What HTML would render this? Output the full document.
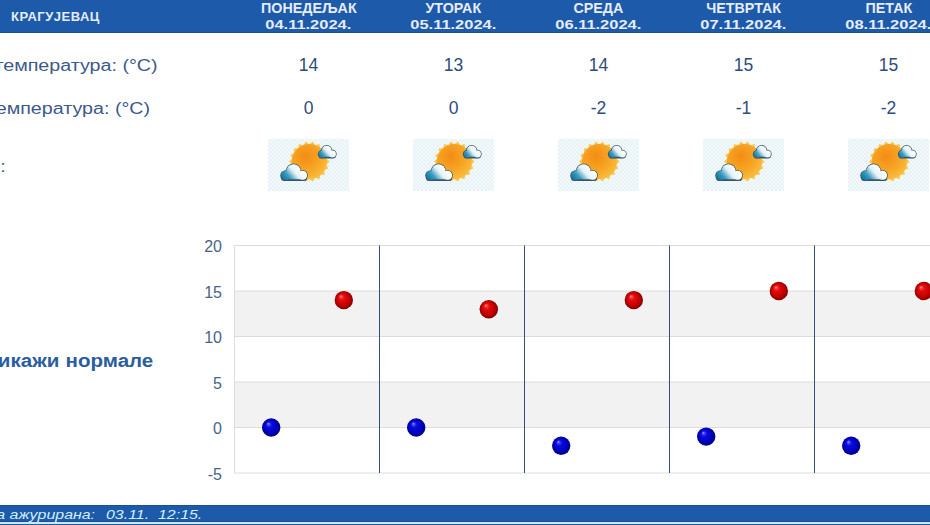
<!DOCTYPE html>
<html><head><meta charset="utf-8"><style>
*{margin:0;padding:0;box-sizing:border-box}
html,body{width:930px;height:525px;overflow:hidden;background:#fff;position:relative}
body{font-family:"Liberation Sans",sans-serif}
.a{position:absolute;white-space:nowrap}
.hdr{left:0;top:0;width:930px;height:33px;background:#1d5aa9;border-bottom:1px solid #1a4f93}
.city{left:11px;top:9px;font-weight:bold;font-size:13px;letter-spacing:0.5px;color:#e6ecfa}
.day{width:145px;text-align:center;font-weight:bold;font-size:13px;color:#e6ecfa;line-height:16px}
.day .n{display:inline-block;font-size:14px;transform:scaleX(1.02)}
.day .d{display:inline-block;font-size:13.5px;transform:scaleX(1.22)}
.lbl{font-size:16px;color:#3c5a8a;transform:scaleX(1.23);transform-origin:right center}
.num{width:145px;text-align:center;font-size:17.5px;color:#2e4c7c}
.icon{width:81px;height:52px;background:repeating-conic-gradient(#e7f3f7 0 25%,#f3f9fb 0 50%) 0 0/4px 4px}
.ax{font-size:16px;color:#4a6488;text-align:right;width:40px;line-height:18px}
.norm{font-weight:bold;font-size:18px;color:#2a5da0;word-spacing:0.5px;transform:scaleX(1.14);transform-origin:right center}
.foot{left:0;top:505px;width:930px;height:17px;background:#1d5aa9;border-top:1px solid #1a4f93;border-bottom:1px solid #1a4f93}
.foot2{left:0;top:522px;width:930px;height:3px;background:#1d5aa9;border-top:2px solid #cce8f6}
.ftxt{top:506px;font-style:italic;font-size:13.5px;color:#d2eefc;line-height:17px;transform:scaleX(1.18)}
</style></head>
<body>
<div class="a hdr"></div>
<div class="a city">КРАГУЈЕВАЦ</div>
<div class="a day" style="left:236.0px;top:0px"><span class="n">ПОНЕДЕЉАК</span><br><span class="d">04.11.2024.</span></div>
<div class="a day" style="left:381.0px;top:0px"><span class="n">УТОРАК</span><br><span class="d">05.11.2024.</span></div>
<div class="a day" style="left:526.0px;top:0px"><span class="n">СРЕДА</span><br><span class="d">06.11.2024.</span></div>
<div class="a day" style="left:671.0px;top:0px"><span class="n">ЧЕТВРТАК</span><br><span class="d">07.11.2024.</span></div>
<div class="a day" style="left:816.0px;top:0px"><span class="n">ПЕТАК</span><br><span class="d">08.11.2024.</span></div>
<div class="a lbl" style="right:772px;top:57px">Максимална температура: (°C)</div>
<div class="a lbl" style="right:779.5px;top:99.5px">Минимална температура: (°C)</div>
<div class="a lbl" style="right:924px;top:158px">Време:</div>
<div class="a num" style="left:236.0px;top:55px">14</div>
<div class="a num" style="left:236.0px;top:98px">0</div>
<div class="a icon" style="left:267.5px;top:139px"><svg width="81" height="52" viewBox="0 0 81 52" style="position:absolute;left:0;top:0"><defs><radialGradient id="sg" cx="0.4" cy="0.35" r="0.75"><stop offset="0" stop-color="#f38c14"/><stop offset="0.55" stop-color="#f7a626"/><stop offset="0.9" stop-color="#fabc3a"/><stop offset="1" stop-color="#f3a02a"/></radialGradient><linearGradient id="cg1" gradientUnits="userSpaceOnUse" x1="16" y1="41" x2="31" y2="28"><stop offset="0" stop-color="#14779e"/><stop offset="0.3" stop-color="#3a9bc0"/><stop offset="0.65" stop-color="#e4f2f7"/><stop offset="1" stop-color="#ffffff"/></linearGradient><linearGradient id="cg2" gradientUnits="userSpaceOnUse" x1="52" y1="18.5" x2="63" y2="9.5"><stop offset="0" stop-color="#14779e"/><stop offset="0.3" stop-color="#3a9bc0"/><stop offset="0.65" stop-color="#e4f2f7"/><stop offset="1" stop-color="#ffffff"/></linearGradient></defs><polygon points="61.60,22.60 58.34,25.60 60.38,29.54 56.28,31.25 56.85,35.65 52.42,35.85 51.45,40.18 47.22,38.86 44.83,42.59 41.30,39.90 37.77,42.59 35.38,38.86 31.15,40.18 30.18,35.85 25.75,35.65 26.32,31.25 22.22,29.54 24.26,25.60 21.00,22.60 24.26,19.60 22.22,15.66 26.32,13.95 25.75,9.55 30.18,9.35 31.15,5.02 35.38,6.34 37.77,2.61 41.30,5.30 44.83,2.61 47.22,6.34 51.45,5.02 52.42,9.35 56.85,9.55 56.28,13.95 60.38,15.66 58.34,19.60" fill="#fcc651"/><circle cx="41.3" cy="22.6" r="17.5" fill="url(#sg)"/><circle cx="17.6" cy="36.5" r="5.35" fill="#3a5665"/><circle cx="25.5" cy="32.2" r="7.75" fill="#3a5665"/><circle cx="34.6" cy="36.3" r="5.25" fill="#3a5665"/><rect x="13" y="35.2" width="26.1" height="6.75" rx="3" fill="#3a5665"/><circle cx="17.6" cy="36.5" r="4.6" fill="url(#cg1)"/><circle cx="25.5" cy="32.2" r="7" fill="url(#cg1)"/><circle cx="34.6" cy="36.3" r="4.5" fill="url(#cg1)"/><rect x="14" y="35.2" width="24.1" height="5" rx="2" fill="url(#cg1)"/><circle cx="54" cy="15.2" r="4.15" fill="#3a5665"/><circle cx="58.6" cy="11.7" r="5.75" fill="#3a5665"/><circle cx="64.4" cy="15.1" r="4.25" fill="#3a5665"/><rect x="50.6" y="12.7" width="17.4" height="6.75" rx="3" fill="#3a5665"/><circle cx="54" cy="15.2" r="3.4" fill="url(#cg2)"/><circle cx="58.6" cy="11.7" r="5" fill="url(#cg2)"/><circle cx="64.4" cy="15.1" r="3.5" fill="url(#cg2)"/><rect x="51.6" y="12.7" width="15.399999999999999" height="5" rx="2" fill="url(#cg2)"/></svg></div>
<div class="a num" style="left:381.0px;top:55px">13</div>
<div class="a num" style="left:381.0px;top:98px">0</div>
<div class="a icon" style="left:412.5px;top:139px"><svg width="81" height="52" viewBox="0 0 81 52" style="position:absolute;left:0;top:0"><defs><radialGradient id="sg" cx="0.4" cy="0.35" r="0.75"><stop offset="0" stop-color="#f38c14"/><stop offset="0.55" stop-color="#f7a626"/><stop offset="0.9" stop-color="#fabc3a"/><stop offset="1" stop-color="#f3a02a"/></radialGradient><linearGradient id="cg1" gradientUnits="userSpaceOnUse" x1="16" y1="41" x2="31" y2="28"><stop offset="0" stop-color="#14779e"/><stop offset="0.3" stop-color="#3a9bc0"/><stop offset="0.65" stop-color="#e4f2f7"/><stop offset="1" stop-color="#ffffff"/></linearGradient><linearGradient id="cg2" gradientUnits="userSpaceOnUse" x1="52" y1="18.5" x2="63" y2="9.5"><stop offset="0" stop-color="#14779e"/><stop offset="0.3" stop-color="#3a9bc0"/><stop offset="0.65" stop-color="#e4f2f7"/><stop offset="1" stop-color="#ffffff"/></linearGradient></defs><polygon points="61.60,22.60 58.34,25.60 60.38,29.54 56.28,31.25 56.85,35.65 52.42,35.85 51.45,40.18 47.22,38.86 44.83,42.59 41.30,39.90 37.77,42.59 35.38,38.86 31.15,40.18 30.18,35.85 25.75,35.65 26.32,31.25 22.22,29.54 24.26,25.60 21.00,22.60 24.26,19.60 22.22,15.66 26.32,13.95 25.75,9.55 30.18,9.35 31.15,5.02 35.38,6.34 37.77,2.61 41.30,5.30 44.83,2.61 47.22,6.34 51.45,5.02 52.42,9.35 56.85,9.55 56.28,13.95 60.38,15.66 58.34,19.60" fill="#fcc651"/><circle cx="41.3" cy="22.6" r="17.5" fill="url(#sg)"/><circle cx="17.6" cy="36.5" r="5.35" fill="#3a5665"/><circle cx="25.5" cy="32.2" r="7.75" fill="#3a5665"/><circle cx="34.6" cy="36.3" r="5.25" fill="#3a5665"/><rect x="13" y="35.2" width="26.1" height="6.75" rx="3" fill="#3a5665"/><circle cx="17.6" cy="36.5" r="4.6" fill="url(#cg1)"/><circle cx="25.5" cy="32.2" r="7" fill="url(#cg1)"/><circle cx="34.6" cy="36.3" r="4.5" fill="url(#cg1)"/><rect x="14" y="35.2" width="24.1" height="5" rx="2" fill="url(#cg1)"/><circle cx="54" cy="15.2" r="4.15" fill="#3a5665"/><circle cx="58.6" cy="11.7" r="5.75" fill="#3a5665"/><circle cx="64.4" cy="15.1" r="4.25" fill="#3a5665"/><rect x="50.6" y="12.7" width="17.4" height="6.75" rx="3" fill="#3a5665"/><circle cx="54" cy="15.2" r="3.4" fill="url(#cg2)"/><circle cx="58.6" cy="11.7" r="5" fill="url(#cg2)"/><circle cx="64.4" cy="15.1" r="3.5" fill="url(#cg2)"/><rect x="51.6" y="12.7" width="15.399999999999999" height="5" rx="2" fill="url(#cg2)"/></svg></div>
<div class="a num" style="left:526.0px;top:55px">14</div>
<div class="a num" style="left:526.0px;top:98px">-2</div>
<div class="a icon" style="left:557.5px;top:139px"><svg width="81" height="52" viewBox="0 0 81 52" style="position:absolute;left:0;top:0"><defs><radialGradient id="sg" cx="0.4" cy="0.35" r="0.75"><stop offset="0" stop-color="#f38c14"/><stop offset="0.55" stop-color="#f7a626"/><stop offset="0.9" stop-color="#fabc3a"/><stop offset="1" stop-color="#f3a02a"/></radialGradient><linearGradient id="cg1" gradientUnits="userSpaceOnUse" x1="16" y1="41" x2="31" y2="28"><stop offset="0" stop-color="#14779e"/><stop offset="0.3" stop-color="#3a9bc0"/><stop offset="0.65" stop-color="#e4f2f7"/><stop offset="1" stop-color="#ffffff"/></linearGradient><linearGradient id="cg2" gradientUnits="userSpaceOnUse" x1="52" y1="18.5" x2="63" y2="9.5"><stop offset="0" stop-color="#14779e"/><stop offset="0.3" stop-color="#3a9bc0"/><stop offset="0.65" stop-color="#e4f2f7"/><stop offset="1" stop-color="#ffffff"/></linearGradient></defs><polygon points="61.60,22.60 58.34,25.60 60.38,29.54 56.28,31.25 56.85,35.65 52.42,35.85 51.45,40.18 47.22,38.86 44.83,42.59 41.30,39.90 37.77,42.59 35.38,38.86 31.15,40.18 30.18,35.85 25.75,35.65 26.32,31.25 22.22,29.54 24.26,25.60 21.00,22.60 24.26,19.60 22.22,15.66 26.32,13.95 25.75,9.55 30.18,9.35 31.15,5.02 35.38,6.34 37.77,2.61 41.30,5.30 44.83,2.61 47.22,6.34 51.45,5.02 52.42,9.35 56.85,9.55 56.28,13.95 60.38,15.66 58.34,19.60" fill="#fcc651"/><circle cx="41.3" cy="22.6" r="17.5" fill="url(#sg)"/><circle cx="17.6" cy="36.5" r="5.35" fill="#3a5665"/><circle cx="25.5" cy="32.2" r="7.75" fill="#3a5665"/><circle cx="34.6" cy="36.3" r="5.25" fill="#3a5665"/><rect x="13" y="35.2" width="26.1" height="6.75" rx="3" fill="#3a5665"/><circle cx="17.6" cy="36.5" r="4.6" fill="url(#cg1)"/><circle cx="25.5" cy="32.2" r="7" fill="url(#cg1)"/><circle cx="34.6" cy="36.3" r="4.5" fill="url(#cg1)"/><rect x="14" y="35.2" width="24.1" height="5" rx="2" fill="url(#cg1)"/><circle cx="54" cy="15.2" r="4.15" fill="#3a5665"/><circle cx="58.6" cy="11.7" r="5.75" fill="#3a5665"/><circle cx="64.4" cy="15.1" r="4.25" fill="#3a5665"/><rect x="50.6" y="12.7" width="17.4" height="6.75" rx="3" fill="#3a5665"/><circle cx="54" cy="15.2" r="3.4" fill="url(#cg2)"/><circle cx="58.6" cy="11.7" r="5" fill="url(#cg2)"/><circle cx="64.4" cy="15.1" r="3.5" fill="url(#cg2)"/><rect x="51.6" y="12.7" width="15.399999999999999" height="5" rx="2" fill="url(#cg2)"/></svg></div>
<div class="a num" style="left:671.0px;top:55px">15</div>
<div class="a num" style="left:671.0px;top:98px">-1</div>
<div class="a icon" style="left:702.5px;top:139px"><svg width="81" height="52" viewBox="0 0 81 52" style="position:absolute;left:0;top:0"><defs><radialGradient id="sg" cx="0.4" cy="0.35" r="0.75"><stop offset="0" stop-color="#f38c14"/><stop offset="0.55" stop-color="#f7a626"/><stop offset="0.9" stop-color="#fabc3a"/><stop offset="1" stop-color="#f3a02a"/></radialGradient><linearGradient id="cg1" gradientUnits="userSpaceOnUse" x1="16" y1="41" x2="31" y2="28"><stop offset="0" stop-color="#14779e"/><stop offset="0.3" stop-color="#3a9bc0"/><stop offset="0.65" stop-color="#e4f2f7"/><stop offset="1" stop-color="#ffffff"/></linearGradient><linearGradient id="cg2" gradientUnits="userSpaceOnUse" x1="52" y1="18.5" x2="63" y2="9.5"><stop offset="0" stop-color="#14779e"/><stop offset="0.3" stop-color="#3a9bc0"/><stop offset="0.65" stop-color="#e4f2f7"/><stop offset="1" stop-color="#ffffff"/></linearGradient></defs><polygon points="61.60,22.60 58.34,25.60 60.38,29.54 56.28,31.25 56.85,35.65 52.42,35.85 51.45,40.18 47.22,38.86 44.83,42.59 41.30,39.90 37.77,42.59 35.38,38.86 31.15,40.18 30.18,35.85 25.75,35.65 26.32,31.25 22.22,29.54 24.26,25.60 21.00,22.60 24.26,19.60 22.22,15.66 26.32,13.95 25.75,9.55 30.18,9.35 31.15,5.02 35.38,6.34 37.77,2.61 41.30,5.30 44.83,2.61 47.22,6.34 51.45,5.02 52.42,9.35 56.85,9.55 56.28,13.95 60.38,15.66 58.34,19.60" fill="#fcc651"/><circle cx="41.3" cy="22.6" r="17.5" fill="url(#sg)"/><circle cx="17.6" cy="36.5" r="5.35" fill="#3a5665"/><circle cx="25.5" cy="32.2" r="7.75" fill="#3a5665"/><circle cx="34.6" cy="36.3" r="5.25" fill="#3a5665"/><rect x="13" y="35.2" width="26.1" height="6.75" rx="3" fill="#3a5665"/><circle cx="17.6" cy="36.5" r="4.6" fill="url(#cg1)"/><circle cx="25.5" cy="32.2" r="7" fill="url(#cg1)"/><circle cx="34.6" cy="36.3" r="4.5" fill="url(#cg1)"/><rect x="14" y="35.2" width="24.1" height="5" rx="2" fill="url(#cg1)"/><circle cx="54" cy="15.2" r="4.15" fill="#3a5665"/><circle cx="58.6" cy="11.7" r="5.75" fill="#3a5665"/><circle cx="64.4" cy="15.1" r="4.25" fill="#3a5665"/><rect x="50.6" y="12.7" width="17.4" height="6.75" rx="3" fill="#3a5665"/><circle cx="54" cy="15.2" r="3.4" fill="url(#cg2)"/><circle cx="58.6" cy="11.7" r="5" fill="url(#cg2)"/><circle cx="64.4" cy="15.1" r="3.5" fill="url(#cg2)"/><rect x="51.6" y="12.7" width="15.399999999999999" height="5" rx="2" fill="url(#cg2)"/></svg></div>
<div class="a num" style="left:816.0px;top:55px">15</div>
<div class="a num" style="left:816.0px;top:98px">-2</div>
<div class="a icon" style="left:847.5px;top:139px"><svg width="81" height="52" viewBox="0 0 81 52" style="position:absolute;left:0;top:0"><defs><radialGradient id="sg" cx="0.4" cy="0.35" r="0.75"><stop offset="0" stop-color="#f38c14"/><stop offset="0.55" stop-color="#f7a626"/><stop offset="0.9" stop-color="#fabc3a"/><stop offset="1" stop-color="#f3a02a"/></radialGradient><linearGradient id="cg1" gradientUnits="userSpaceOnUse" x1="16" y1="41" x2="31" y2="28"><stop offset="0" stop-color="#14779e"/><stop offset="0.3" stop-color="#3a9bc0"/><stop offset="0.65" stop-color="#e4f2f7"/><stop offset="1" stop-color="#ffffff"/></linearGradient><linearGradient id="cg2" gradientUnits="userSpaceOnUse" x1="52" y1="18.5" x2="63" y2="9.5"><stop offset="0" stop-color="#14779e"/><stop offset="0.3" stop-color="#3a9bc0"/><stop offset="0.65" stop-color="#e4f2f7"/><stop offset="1" stop-color="#ffffff"/></linearGradient></defs><polygon points="61.60,22.60 58.34,25.60 60.38,29.54 56.28,31.25 56.85,35.65 52.42,35.85 51.45,40.18 47.22,38.86 44.83,42.59 41.30,39.90 37.77,42.59 35.38,38.86 31.15,40.18 30.18,35.85 25.75,35.65 26.32,31.25 22.22,29.54 24.26,25.60 21.00,22.60 24.26,19.60 22.22,15.66 26.32,13.95 25.75,9.55 30.18,9.35 31.15,5.02 35.38,6.34 37.77,2.61 41.30,5.30 44.83,2.61 47.22,6.34 51.45,5.02 52.42,9.35 56.85,9.55 56.28,13.95 60.38,15.66 58.34,19.60" fill="#fcc651"/><circle cx="41.3" cy="22.6" r="17.5" fill="url(#sg)"/><circle cx="17.6" cy="36.5" r="5.35" fill="#3a5665"/><circle cx="25.5" cy="32.2" r="7.75" fill="#3a5665"/><circle cx="34.6" cy="36.3" r="5.25" fill="#3a5665"/><rect x="13" y="35.2" width="26.1" height="6.75" rx="3" fill="#3a5665"/><circle cx="17.6" cy="36.5" r="4.6" fill="url(#cg1)"/><circle cx="25.5" cy="32.2" r="7" fill="url(#cg1)"/><circle cx="34.6" cy="36.3" r="4.5" fill="url(#cg1)"/><rect x="14" y="35.2" width="24.1" height="5" rx="2" fill="url(#cg1)"/><circle cx="54" cy="15.2" r="4.15" fill="#3a5665"/><circle cx="58.6" cy="11.7" r="5.75" fill="#3a5665"/><circle cx="64.4" cy="15.1" r="4.25" fill="#3a5665"/><rect x="50.6" y="12.7" width="17.4" height="6.75" rx="3" fill="#3a5665"/><circle cx="54" cy="15.2" r="3.4" fill="url(#cg2)"/><circle cx="58.6" cy="11.7" r="5" fill="url(#cg2)"/><circle cx="64.4" cy="15.1" r="3.5" fill="url(#cg2)"/><rect x="51.6" y="12.7" width="15.399999999999999" height="5" rx="2" fill="url(#cg2)"/></svg></div>
<svg class="a" style="left:0;top:0" width="930" height="525"><defs><radialGradient id="rb" cx="0.5" cy="0.5" r="0.5" fx="0.33" fy="0.28"><stop offset="0" stop-color="#b4b4ff"/><stop offset="0.12" stop-color="#4a4af4"/><stop offset="0.32" stop-color="#0a0ae2"/><stop offset="0.8" stop-color="#0000b4"/><stop offset="1" stop-color="#00007a"/></radialGradient><radialGradient id="rr" cx="0.5" cy="0.5" r="0.5" fx="0.33" fy="0.28"><stop offset="0" stop-color="#ffb4b4"/><stop offset="0.12" stop-color="#f44a4a"/><stop offset="0.32" stop-color="#e80a0a"/><stop offset="0.8" stop-color="#b80000"/><stop offset="1" stop-color="#7a0000"/></radialGradient></defs><rect x="234.5" y="291.0" width="695.5" height="45.5" fill="#f2f2f2"/><rect x="234.5" y="382.0" width="695.5" height="45.5" fill="#f2f2f2"/><line x1="234.5" x2="930" y1="245.5" y2="245.5" stroke="#dcdcdc" stroke-width="1"/><line x1="234.5" x2="930" y1="291.0" y2="291.0" stroke="#dcdcdc" stroke-width="1"/><line x1="234.5" x2="930" y1="336.5" y2="336.5" stroke="#dcdcdc" stroke-width="1"/><line x1="234.5" x2="930" y1="382.0" y2="382.0" stroke="#dcdcdc" stroke-width="1"/><line x1="234.5" x2="930" y1="427.5" y2="427.5" stroke="#dcdcdc" stroke-width="1"/><line x1="234.5" x2="930" y1="473.0" y2="473.0" stroke="#dcdcdc" stroke-width="1"/><line x1="234.5" x2="234.5" y1="245.5" y2="473.0" stroke="#dcdcdc" stroke-width="1"/><line x1="379.5" x2="379.5" y1="245.5" y2="473.0" stroke="#34507a" stroke-width="1"/><line x1="524.5" x2="524.5" y1="245.5" y2="473.0" stroke="#34507a" stroke-width="1"/><line x1="669.5" x2="669.5" y1="245.5" y2="473.0" stroke="#34507a" stroke-width="1"/><line x1="814.5" x2="814.5" y1="245.5" y2="473.0" stroke="#34507a" stroke-width="1"/><circle cx="271.2" cy="427.5" r="9.2" fill="url(#rb)"/><circle cx="343.8" cy="300.1" r="9.2" fill="url(#rr)"/><circle cx="416.2" cy="427.5" r="9.2" fill="url(#rb)"/><circle cx="488.8" cy="309.2" r="9.2" fill="url(#rr)"/><circle cx="561.2" cy="445.7" r="9.2" fill="url(#rb)"/><circle cx="633.8" cy="300.1" r="9.2" fill="url(#rr)"/><circle cx="706.2" cy="436.6" r="9.2" fill="url(#rb)"/><circle cx="778.8" cy="291.0" r="9.2" fill="url(#rr)"/><circle cx="851.2" cy="445.7" r="9.2" fill="url(#rb)"/><circle cx="923.8" cy="291.0" r="9.2" fill="url(#rr)"/></svg>
<div class="a ax" style="left:182px;top:238.0px">20</div>
<div class="a ax" style="left:182px;top:283.5px">15</div>
<div class="a ax" style="left:182px;top:329.0px">10</div>
<div class="a ax" style="left:182px;top:374.5px">5</div>
<div class="a ax" style="left:182px;top:420.0px">0</div>
<div class="a ax" style="left:182px;top:465.5px">-5</div>
<div class="a norm" style="right:777px;top:350.5px">Прикажи нормале</div>
<div class="a foot"></div><div class="a foot2"></div>
<div class="a ftxt" style="right:835px;transform-origin:right center">Прогноза ажурирана:</div>
<div class="a ftxt" style="left:106px;transform-origin:left center">03.11.</div>
<div class="a ftxt" style="left:158px;transform-origin:left center">12:15.</div>
</body></html>
